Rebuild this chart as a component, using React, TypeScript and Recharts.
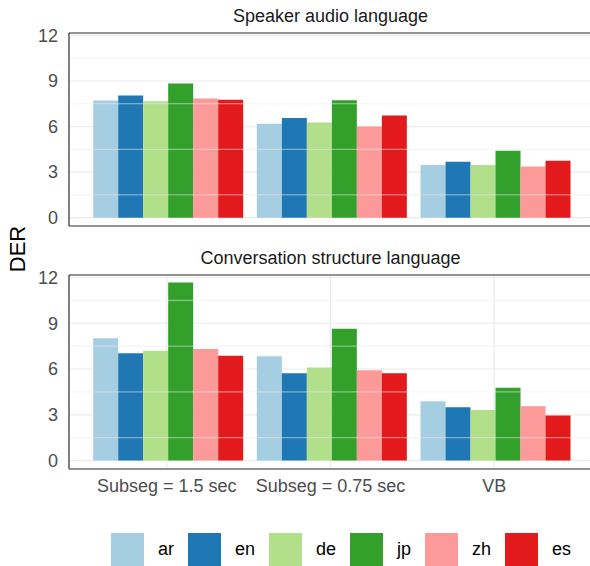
import { BarChart, Bar, XAxis, YAxis, CartesianGrid, ReferenceLine } from 'recharts';

const categories = ['Subseg = 1.5 sec', 'Subseg = 0.75 sec', 'VB'];
const languages = ['ar', 'en', 'de', 'jp', 'zh', 'es'];
const colors = ['#A6CEE3', '#1F78B4', '#B2DF8A', '#33A02C', '#FB9A99', '#E31A1C'];

// values per category, in the order of `languages`
const audioSubseg15 = [7.71, 8.04, 7.66, 8.83, 7.84, 7.77];
const audioSubseg075 = [6.19, 6.56, 6.27, 7.73, 6.01, 6.72];
const audioVB = [3.46, 3.68, 3.46, 4.4, 3.37, 3.74];

const convSubseg15 = [8.02, 7.03, 7.2, 11.67, 7.31, 6.87];
const convSubseg075 = [6.83, 5.72, 6.1, 8.64, 5.92, 5.72];
const convVB = [3.89, 3.49, 3.31, 4.77, 3.56, 2.96];

const yTicks = [0, 3, 6, 9, 12];
const yMinor = [1.5, 4.5, 7.5, 10.5];
const yDomain: [number, number] = [-0.55, 12.16];

const FONT = '"Liberation Sans", Arial, Helvetica, sans-serif';

function toRows(groups: number[][]) {
  return categories.map((name, i) => {
    const row: Record<string, string | number> = { name };
    languages.forEach((lang, j) => {
      row[lang] = groups[i][j];
    });
    return row;
  });
}

const audioData = toRows([audioSubseg15, audioSubseg075, audioVB]);
const convData = toRows([convSubseg15, convSubseg075, convVB]);

function Panel({ data, showX, height, xHeight }: { data: any[]; showX: boolean; height: number; xHeight: number }) {
  return (
    <BarChart
      width={600}
      height={height}
      data={data}
      margin={{ top: 33, right: 8, left: 0, bottom: 0 }}
      barGap={0}
      barCategoryGap="5%"
    >
      <CartesianGrid stroke="#EBEBEB" strokeWidth={1.2} />
      {yMinor.map((v) => (
        <ReferenceLine key={v} y={v} stroke="#EBEBEB" strokeWidth={0.6} />
      ))}
      <XAxis
        dataKey="name"
        type="category"
        padding={{ left: 16, right: 16 }}
        height={xHeight}
        tick={showX ? { fill: '#4D4D4D', fontSize: 18, fontFamily: FONT } : false}
        tickLine={false}
        tickSize={0}
        tickMargin={10}
        axisLine={{ stroke: '#333333', strokeWidth: 1.2 }}
        interval={0}
      />
      <YAxis
        width={69}
        domain={yDomain}
        ticks={yTicks}
        allowDataOverflow
        tick={{ fill: '#4D4D4D', fontSize: 18, fontFamily: FONT }}
        tickLine={false}
        tickSize={0}
        tickMargin={11}
        axisLine={{ stroke: '#333333', strokeWidth: 1.2 }}
      />
      {languages.map((lang, i) => (
        <Bar key={lang} dataKey={lang} fill={colors[i]} isAnimationActive={false} />
      ))}
      <ReferenceLine y={yDomain[1]} stroke="#333333" strokeWidth={1.2} />
    </BarChart>
  );
}

export default function App() {
  return (
    <div
      style={{
        position: 'absolute',
        left: 0,
        top: 0,
        width: 590,
        height: 566,
        overflow: 'hidden',
        background: '#fff',
        fontFamily: FONT,
      }}
    >
      <div style={{ position: 'absolute', left: 0, top: 0 }}>
        <Panel data={audioData} showX={false} height={240} xHeight={14} />
      </div>
      <div style={{ position: 'absolute', left: 0, top: 242 }}>
        <Panel data={convData} showX={true} height={260} xHeight={33} />
      </div>

      <svg width={590} height={566} style={{ position: 'absolute', left: 0, top: 0, pointerEvents: 'none' }}>
        <text x={330.5} y={21.7} textAnchor="middle" fontSize={18} fill="#1A1A1A" fontFamily={FONT}>
          Speaker audio language
        </text>
        <text x={330.5} y={263.7} textAnchor="middle" fontSize={18} fill="#1A1A1A" fontFamily={FONT}>
          Conversation structure language
        </text>
        <text
          x={0}
          y={0}
          transform="translate(25 249) rotate(-90)"
          textAnchor="middle"
          fontSize={22}
          fill="#000"
          fontFamily={FONT}
        >
          DER
        </text>
      </svg>

      <div
        style={{
          position: 'absolute',
          left: 111,
          top: 533,
          display: 'flex',
          alignItems: 'center',
          fontSize: 18,
          color: '#000',
        }}
      >
        {languages.map((lang, i) => (
          <div key={lang} style={{ display: 'flex', alignItems: 'center' }}>
            <div style={{ width: 33, height: 33, background: colors[i], marginRight: 14 }} />
            <span style={{ marginRight: 14, lineHeight: '33px' }}>{lang}</span>
          </div>
        ))}
      </div>
    </div>
  );
}
